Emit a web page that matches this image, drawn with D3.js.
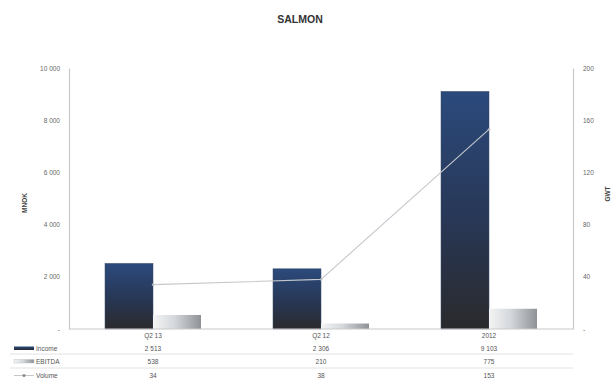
<!DOCTYPE html>
<html>
<head>
<meta charset="utf-8">
<script src="https://cdn.jsdelivr.net/npm/d3@7"></script>
<style>
  html, body { margin: 0; padding: 0; background: #fff; }
  svg { display: block; font-family: "Liberation Sans", Arial, sans-serif; }
</style>
</head>
<body>
<svg id="chart" width="613" height="381"></svg>
<script>
// Segment figures: income and EBITDA in MNOK, volume in GWT
const categories = ["Q2 13", "Q2 12", "2012"];
const income = [2513, 2306, 9103];
const ebitda = [538, 210, 775];
const volume = [34, 38, 153];
const leftTicks = [0, 2000, 4000, 6000, 8000, 10000];
const rightTicks = [0, 40, 80, 120, 160, 200];
const seriesNames = ["Income", "EBITDA", "Volume"];

const svg = d3.select("#chart");
const locale = d3.formatLocale({ decimal: ",", thousands: " ", grouping: [3], currency: ["", ""] });
const fmt = locale.format(",d");
const tickFmt = v => v === 0 ? "-" : fmt(v);

const plot = { left: 69, right: 573, top: 68, bottom: 329 };

const x = d3.scaleBand().domain(categories).range([plot.left, plot.right]).paddingInner(0).paddingOuter(0);
const yL = d3.scaleLinear().domain([0, 10000]).range([plot.bottom, plot.top]);
const yR = d3.scaleLinear().domain([0, 200]).range([plot.bottom, plot.top]);
const barW = 48;

// Gradients
const defs = svg.append("defs");
const gInc = defs.append("linearGradient").attr("id", "gInc").attr("x1", 0).attr("y1", 0).attr("x2", 0).attr("y2", 1);
gInc.append("stop").attr("offset", "0%").attr("stop-color", "#2b4a7c");
gInc.append("stop").attr("offset", "55%").attr("stop-color", "#283755");
gInc.append("stop").attr("offset", "100%").attr("stop-color", "#2a2a2c");
const gEb = defs.append("linearGradient").attr("id", "gEb").attr("x1", 0).attr("y1", 0).attr("x2", 1).attr("y2", 0);
gEb.append("stop").attr("offset", "0%").attr("stop-color", "#f4f4f4");
gEb.append("stop").attr("offset", "45%").attr("stop-color", "#d4d8dc");
gEb.append("stop").attr("offset", "100%").attr("stop-color", "#8e9296");

// Title
svg.append("text").attr("x", 300).attr("y", 23).attr("text-anchor", "middle")
  .attr("font-size", 10.5).attr("font-weight", "bold").attr("fill", "#333").text("SALMON");

// Axes
const axisColor = "#c9c9c9";
const leftAxis = svg.append("g").attr("transform", `translate(${plot.left},0)`)
  .call(d3.axisLeft(yL).tickValues(leftTicks).tickFormat(tickFmt).tickSize(0).tickPadding(9));
const rightAxis = svg.append("g").attr("transform", `translate(${plot.right},0)`)
  .call(d3.axisRight(yR).tickValues(rightTicks).tickFormat(tickFmt).tickSize(0).tickPadding(10));
[leftAxis, rightAxis].forEach(a => {
  a.select(".domain").attr("stroke", axisColor).attr("stroke-width", 1.2);
  a.selectAll("text").attr("font-size", 6.5).attr("fill", "#666").attr("font-family", "Liberation Sans, Arial, sans-serif");
});

svg.append("text").attr("transform", `translate(27,203) rotate(-90)`).attr("text-anchor", "middle")
  .attr("font-size", 6.5).attr("font-weight", "bold").attr("fill", "#444").text("MNOK");
svg.append("text").attr("transform", `translate(610,194) rotate(-90)`).attr("text-anchor", "middle")
  .attr("font-size", 6.5).attr("font-weight", "bold").attr("fill", "#444").text("GWT");

// Bars
const center = c => x(c) + x.bandwidth() / 2;
svg.append("g").selectAll("rect").data(categories).join("rect")
  .attr("x", c => center(c) - barW).attr("width", barW)
  .attr("y", (c, i) => yL(income[i])).attr("height", (c, i) => yL(0) - yL(income[i]))
  .attr("fill", "url(#gInc)").attr("stroke", "#3c4d6a").attr("stroke-width", 0.5);
svg.append("g").selectAll("rect").data(categories).join("rect")
  .attr("x", c => center(c)).attr("width", barW)
  .attr("y", (c, i) => yL(ebitda[i])).attr("height", (c, i) => yL(0) - yL(ebitda[i]))
  .attr("fill", "url(#gEb)");

// Baseline
svg.append("line").attr("x1", plot.left).attr("x2", plot.right).attr("y1", plot.bottom).attr("y2", plot.bottom)
  .attr("stroke", axisColor).attr("stroke-width", 1.2);

// Volume line
const line = d3.line().x((d, i) => center(categories[i])).y(d => yR(d));
svg.append("path").datum(volume).attr("d", line).attr("fill", "none")
  .attr("stroke", "#c4c8cc").attr("stroke-width", 1.1);
svg.append("g").selectAll("circle").data(volume).join("circle")
  .attr("cx", (d, i) => center(categories[i])).attr("cy", d => yR(d)).attr("r", 1.2).attr("fill", "#b8bcc0");

// Data table
const rowY = [338, 351, 364, 378];
const textColor = "#555";
svg.append("g").selectAll("text").data(categories).join("text")
  .attr("x", c => center(c)).attr("y", rowY[0]).attr("text-anchor", "middle")
  .attr("font-size", 6.5).attr("fill", textColor).text(c => c);

const rows = [income, ebitda, volume];
rows.forEach((vals, r) => {
  svg.append("g").selectAll("text").data(vals).join("text")
    .attr("x", (d, i) => center(categories[i])).attr("y", rowY[r + 1]).attr("text-anchor", "middle")
    .attr("font-size", 6.5).attr("fill", textColor).text(d => fmt(d));
  svg.append("text").attr("x", 36).attr("y", rowY[r + 1]).attr("font-size", 6.5).attr("fill", textColor)
    .text(seriesNames[r]);
});

// Row separators
[354, 368].forEach(yy => {
  svg.append("line").attr("x1", 10).attr("x2", plot.right).attr("y1", yy).attr("y2", yy)
    .attr("stroke", "#e2e2e2").attr("stroke-width", 1);
});

// Legend keys
svg.append("rect").attr("x", 14).attr("y", rowY[1] - 4.5).attr("width", 20).attr("height", 3.5).attr("fill", "url(#gInc)");
svg.append("rect").attr("x", 14).attr("y", rowY[2] - 4.5).attr("width", 20).attr("height", 3.5)
  .attr("fill", "url(#gEb)").attr("stroke", "#bbb").attr("stroke-width", 0.4);
svg.append("line").attr("x1", 14).attr("x2", 34).attr("y1", rowY[3] - 2.5).attr("y2", rowY[3] - 2.5)
  .attr("stroke", "#c4c8cc").attr("stroke-width", 1);
svg.append("circle").attr("cx", 24).attr("cy", rowY[3] - 2.5).attr("r", 1.5).attr("fill", "#888");
</script>
</body>
</html>
